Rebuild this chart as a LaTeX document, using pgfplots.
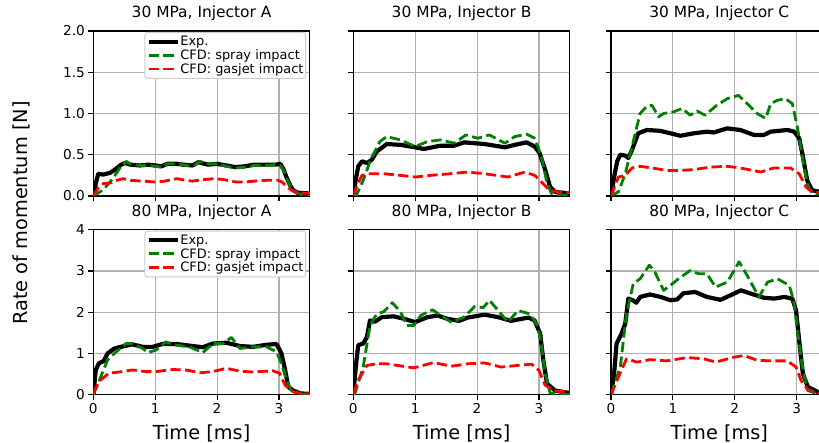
\documentclass[border=0pt]{standalone}
\usepackage{fontspec}
\setmainfont{DejaVu Sans}
\usepackage{pgfplots}
\pgfplotsset{compat=1.18}
\definecolor{mplgreen}{RGB}{0,128,0}
\definecolor{mplred}{RGB}{255,0,0}
\pgfplotsset{
  base/.style={
    scale only axis, width=216.6bp, height=165bp,
    xmin=0, xmax=3.5, xtick={0,1,2,3},
    grid=major, major grid style={color=black!31, line width=1.1bp},
    axis line style={line width=1.1bp, black},
    tick align=outside, xtick pos=bottom, ytick pos=left,
    major tick length=4.9bp,
    every tick/.style={line width=1.1bp, black},
    /pgf/number format/assume math mode=true,
    tick label style={font=\fontsize{13.7}{16}\selectfont},
    title style={font=\fontsize{15.5}{18}\selectfont, at={(0.5,1)}, anchor=base, yshift=7.7bp},
    xlabel style={font=\fontsize{19.4}{22}\selectfont, at={(0.5,0)}, anchor=base, yshift=-44.6bp},
    anchor=south west,
  },
  toprow/.style={ymin=0, ymax=2, ytick={0,0.5,1,1.5,2},
    yticklabel style={/pgf/number format/.cd, fixed, fixed zerofill, precision=1},
    xticklabels={}},
  botrow/.style={ymin=0, ymax=4, ytick={0,1,2,3,4}, xlabel={Time [ms]}},
  noy/.style={yticklabels={}},
  leg/.style={
    legend style={at={(0.983,0.994)}, anchor=north east,
      draw=black!20, line width=1bp, rounded corners=2.5bp,
      fill=white,
      font=\fontsize{13}{14}\selectfont,
      inner xsep=1.5bp, inner ysep=3bp, row sep=1bp,
      nodes={inner sep=0.7bp}},
    legend cell align=left,
    legend image code/.code={\draw[##1] (0bp,0bp) -- (29bp,0bp);},
  },
  exp/.style={black, line width=4.2bp, line join=round, solid},
  spray/.style={mplgreen, line width=2.8bp, line join=round, dash pattern=on 10.3bp off 4.4bp},
  gas/.style={mplred, line width=2.8bp, line join=round, dash pattern=on 10.3bp off 4.4bp},
}
\begin{document}
\begin{tikzpicture}
\path[use as bounding box] (0,0) rectangle (819bp,443bp);
\clip (0,0) rectangle (819bp,443bp);
% ---------- 30 MPa, A
\begin{axis}[base, toprow, leg, at={(93.3bp,247bp)}, title={30 MPa, Injector A}]
\addplot[exp] coordinates {(0,0) (0.04,0.15) (0.08,0.27) (0.16,0.26) (0.27,0.28) (0.35,0.32) (0.45,0.38) (0.51,0.40) (0.6,0.38) (0.75,0.37) (0.9,0.38) (1.0,0.37) (1.1,0.36) (1.2,0.39) (1.35,0.39) (1.45,0.38) (1.6,0.37) (1.7,0.41) (1.85,0.38) (2.0,0.39) (2.15,0.37) (2.3,0.35) (2.45,0.36) (2.6,0.38) (2.8,0.38) (2.95,0.38) (3.02,0.39) (3.07,0.33) (3.12,0.23) (3.18,0.13) (3.23,0.07) (3.3,0.04) (3.5,0.03)};
\addlegendentry{Exp.}
\addplot[spray] coordinates {(0,0) (0.11,0.05) (0.2,0.11) (0.27,0.17) (0.35,0.25) (0.43,0.34) (0.53,0.42) (0.6,0.39) (0.75,0.37) (0.9,0.37) (1.0,0.36) (1.1,0.35) (1.2,0.39) (1.35,0.39) (1.5,0.37) (1.65,0.38) (1.72,0.42) (1.85,0.39) (2.0,0.39) (2.15,0.36) (2.3,0.34) (2.45,0.35) (2.6,0.37) (2.8,0.37) (2.95,0.38) (3.02,0.37) (3.07,0.31) (3.12,0.22) (3.18,0.12) (3.25,0.05) (3.35,0.02) (3.5,0.01)};
\addlegendentry{CFD: spray impact}
\addplot[gas] coordinates {(0,0) (0.08,0.1) (0.16,0.15) (0.28,0.16) (0.38,0.19) (0.48,0.21) (0.6,0.19) (0.8,0.18) (1.0,0.17) (1.15,0.18) (1.35,0.21) (1.5,0.19) (1.6,0.18) (1.8,0.2) (1.95,0.21) (2.1,0.2) (2.3,0.17) (2.45,0.17) (2.6,0.18) (2.8,0.19) (2.98,0.19) (3.05,0.17) (3.12,0.12) (3.2,0.07) (3.3,0.04) (3.5,0.03)};
\addlegendentry{CFD: gasjet impact}
\end{axis}
% ---------- 30 MPa, B
\begin{axis}[base, toprow, noy, at={(353.3bp,247bp)}, title={30 MPa, Injector B}]
\addplot[exp] coordinates {(0,0) (0.04,0.2) (0.08,0.36) (0.14,0.42) (0.22,0.40) (0.3,0.44) (0.38,0.54) (0.54,0.63) (0.76,0.62) (1.0,0.59) (1.14,0.57) (1.41,0.61) (1.63,0.61) (1.79,0.65) (2.12,0.63) (2.45,0.59) (2.61,0.62) (2.8,0.65) (2.93,0.60) (3.01,0.52) (3.1,0.32) (3.18,0.11) (3.26,0.05) (3.5,0.03)};
\addplot[spray] coordinates {(0,0) (0.05,0.01) (0.16,0.19) (0.28,0.44) (0.43,0.66) (0.54,0.72) (0.76,0.68) (1.0,0.60) (1.2,0.66) (1.41,0.68) (1.63,0.64) (1.82,0.74) (2.01,0.70) (2.2,0.74) (2.45,0.64) (2.61,0.72) (2.8,0.75) (2.93,0.70) (3.04,0.48) (3.12,0.19) (3.2,0.03) (3.5,0.0)};
\addplot[gas] coordinates {(0,0) (0.07,0.14) (0.14,0.25) (0.27,0.27) (0.49,0.27) (0.76,0.25) (1.0,0.23) (1.25,0.25) (1.57,0.27) (1.84,0.29) (2.12,0.27) (2.5,0.23) (2.77,0.29) (2.93,0.25) (3.04,0.17) (3.17,0.07) (3.3,0.05) (3.5,0.04)};
\end{axis}
% ---------- 30 MPa, C
\begin{axis}[base, toprow, noy, at={(611bp,247bp)}, title={30 MPa, Injector C}]
\addplot[exp] coordinates {(0,0) (0.06,0.27) (0.1,0.42) (0.15,0.5) (0.23,0.49) (0.28,0.46) (0.34,0.56) (0.44,0.76) (0.58,0.80) (0.79,0.79) (0.96,0.76) (1.12,0.73) (1.34,0.76) (1.55,0.78) (1.66,0.77) (1.88,0.82) (2.09,0.80) (2.31,0.74) (2.47,0.74) (2.58,0.78) (2.85,0.80) (2.96,0.78) (3.04,0.70) (3.09,0.52) (3.17,0.19) (3.25,0.07) (3.5,0.03)};
\addplot[spray] coordinates {(0,0) (0.12,0.05) (0.23,0.27) (0.34,0.60) (0.47,1.00) (0.58,1.09) (0.66,1.10) (0.77,0.96) (0.85,1.0) (1.01,1.02) (1.15,1.06) (1.28,0.98) (1.39,1.03) (1.52,0.98) (1.71,1.10) (1.88,1.18) (2.06,1.22) (2.2,1.12) (2.36,1.0) (2.5,0.94) (2.58,1.12) (2.69,1.16) (2.82,1.18) (2.93,1.12) (3.01,0.84) (3.09,0.48) (3.17,0.15) (3.25,0.03) (3.5,0.01)};
\addplot[gas] coordinates {(0,0) (0.12,0.23) (0.23,0.25) (0.34,0.34) (0.47,0.36) (0.66,0.34) (0.9,0.31) (1.12,0.31) (1.34,0.32) (1.6,0.35) (1.88,0.36) (2.09,0.34) (2.42,0.29) (2.63,0.34) (2.9,0.34) (3.04,0.27) (3.15,0.11) (3.25,0.05) (3.5,0.04)};
\end{axis}
% ---------- 80 MPa, A
\begin{axis}[base, botrow, leg, at={(93.3bp,48.3bp)}, title={80 MPa, Injector A}]
\addplot[exp] coordinates {(0,0) (0.04,0.6) (0.09,0.76) (0.17,0.82) (0.23,1.0) (0.34,1.12) (0.5,1.18) (0.63,1.22) (0.8,1.16) (0.96,1.16) (1.12,1.23) (1.34,1.23) (1.55,1.19) (1.77,1.15) (1.93,1.24) (2.15,1.26) (2.37,1.18) (2.58,1.16) (2.8,1.21) (2.96,1.23) (3.04,1.0) (3.1,0.6) (3.15,0.19) (3.23,0.1) (3.35,0.03) (3.5,0.02)};
\addlegendentry{Exp.}
\addplot[spray] coordinates {(0,0) (0.09,0.32) (0.23,0.84) (0.34,1.0) (0.53,1.24) (0.63,1.24) (0.8,1.12) (0.88,1.02) (1.01,1.08) (1.17,1.28) (1.34,1.2) (1.55,1.16) (1.77,1.02) (1.93,1.24) (2.1,1.24) (2.23,1.39) (2.37,1.12) (2.58,1.16) (2.8,1.16) (2.96,1.04) (3.04,0.76) (3.12,0.36) (3.2,0.11) (3.35,0.02) (3.5,0.01)};
\addlegendentry{CFD: spray impact}
\addplot[gas] coordinates {(0,0.03) (0.09,0.32) (0.25,0.52) (0.47,0.56) (0.63,0.6) (0.85,0.56) (1.01,0.56) (1.28,0.61) (1.5,0.6) (1.72,0.53) (1.93,0.56) (2.15,0.64) (2.37,0.57) (2.58,0.55) (2.9,0.58) (3.01,0.52) (3.1,0.23) (3.23,0.07) (3.35,0.03) (3.5,0.02)};
\addlegendentry{CFD: gasjet impact}
\end{axis}
% ---------- 80 MPa, B
\begin{axis}[base, botrow, noy, at={(353.3bp,48.3bp)}, title={80 MPa, Injector B}]
\addplot[exp] coordinates {(0,0) (0.04,0.67) (0.08,1.2) (0.16,1.24) (0.22,1.4) (0.27,1.8) (0.35,1.77) (0.46,1.88) (0.65,1.9) (0.82,1.84) (1.0,1.76) (1.2,1.88) (1.36,1.92) (1.52,1.84) (1.71,1.79) (1.85,1.87) (2.12,1.94) (2.34,1.88) (2.55,1.79) (2.83,1.87) (2.93,1.8) (3.02,1.48) (3.07,0.84) (3.13,0.27) (3.26,0.1) (3.5,0.04)};
\addplot[spray] coordinates {(0,0) (0.03,0.05) (0.16,0.67) (0.27,1.68) (0.38,1.96) (0.49,2.01) (0.63,2.23) (0.76,2.01) (0.87,1.68) (0.98,1.68) (1.09,1.92) (1.28,2.06) (1.41,1.92) (1.58,1.76) (1.79,1.88) (1.96,2.14) (2.1,2.11) (2.2,2.29) (2.34,2.04) (2.5,1.76) (2.66,2.04) (2.85,1.96) (2.96,1.72) (3.02,1.4) (3.1,0.51) (3.18,0.04) (3.5,0.0)};
\addplot[gas] coordinates {(0,0.02) (0.08,0.35) (0.22,0.71) (0.38,0.75) (0.54,0.75) (0.71,0.71) (0.98,0.65) (1.3,0.78) (1.58,0.69) (1.85,0.75) (2.12,0.77) (2.39,0.67) (2.66,0.71) (2.88,0.74) (3.0,0.59) (3.1,0.23) (3.27,0.09) (3.5,0.06)};
\end{axis}
% ---------- 80 MPa, C
\begin{axis}[base, botrow, noy, at={(611bp,48.3bp)}, title={80 MPa, Injector C}]
\addplot[exp] coordinates {(0,0) (0.05,0.51) (0.09,1.24) (0.17,1.48) (0.23,1.72) (0.28,2.33) (0.35,2.29) (0.41,2.23) (0.47,2.37) (0.63,2.43) (0.8,2.37) (0.96,2.29) (1.07,2.31) (1.17,2.46) (1.36,2.49) (1.55,2.37) (1.77,2.3) (1.93,2.41) (2.1,2.53) (2.26,2.45) (2.47,2.35) (2.64,2.33) (2.8,2.37) (2.93,2.33) (2.99,2.04) (3.04,1.32) (3.1,0.51) (3.18,0.19) (3.35,0.06) (3.5,0.04)};
\addplot[spray] coordinates {(0,0) (0.15,0.67) (0.25,1.96) (0.36,2.69) (0.47,2.81) (0.62,3.14) (0.71,2.97) (0.85,2.53) (0.96,2.65) (1.09,2.81) (1.28,3.01) (1.42,2.93) (1.55,2.93) (1.69,2.61) (1.88,2.73) (2.07,3.22) (2.2,2.89) (2.39,2.37) (2.53,2.73) (2.69,2.81) (2.88,2.65) (2.95,2.29) (3.02,1.48) (3.1,0.59) (3.18,0.1) (3.35,0.02) (3.5,0.01)};
\addplot[gas] coordinates {(0,0) (0.12,0.43) (0.25,0.87) (0.42,0.79) (0.63,0.85) (0.9,0.82) (1.23,0.9) (1.5,0.87) (1.69,0.79) (1.99,0.91) (2.15,0.95) (2.37,0.83) (2.64,0.82) (2.85,0.82) (2.99,0.67) (3.07,0.35) (3.18,0.12) (3.35,0.04) (3.5,0.03)};
\end{axis}
\node[rotate=90, anchor=base, font=\fontsize{19.4}{22}\selectfont, inner sep=0pt] at (27bp,230bp) {Rate of momentum [N]};
\end{tikzpicture}
\end{document}
